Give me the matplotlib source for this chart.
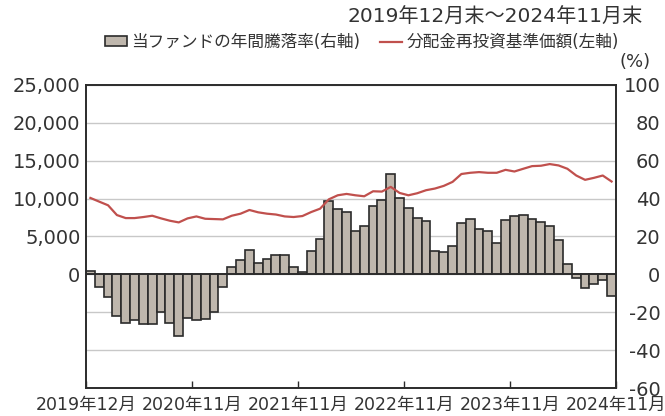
import numpy as np
import matplotlib.pyplot as plt
import matplotlib.ticker as ticker
from matplotlib.patches import Patch
from matplotlib.lines import Line2D

plt.rcParams['font.family'] = ['DejaVu Sans', 'Noto Sans CJK JP']
plt.rcParams['axes.unicode_minus'] = False

# 年間騰落率(%) 2019年12月～2024年11月
nenkan = [2.0, -6.9, -12.2, -22.1, -25.5, -24.1, -26.0, -26.0, -19.8, -25.8,
          -32.4, -23.0, -24.1, -23.4, -19.8, -6.9, 4.1, 7.6, 12.9, 6.2,
          8.1, 10.4, 10.3, 4.1, 1.1, 12.4, 18.6, 38.6, 34.3, 32.7,
          22.8, 25.8, 36.1, 39.5, 52.9, 40.4, 35.0, 29.6, 28.0, 12.4,
          11.9, 14.8, 27.3, 29.4, 23.7, 23.0, 16.8, 28.5, 30.8, 31.3,
          29.4, 27.8, 25.3, 18.2, 5.7, -2.1, -7.4, -5.0, -3.0, -11.2]
# 分配金再投資基準価額(円)
kijun = [10090, 9600, 9120, 7830, 7430, 7430, 7570, 7740, 7390, 7080,
         6860, 7390, 7650, 7340, 7300, 7260, 7740, 8010, 8500, 8190,
         8010, 7900, 7650, 7570, 7700, 8230, 8670, 9910, 10440, 10620,
         10440, 10310, 10970, 10930, 11550, 10750, 10440, 10710, 11110, 11330,
         11680, 12210, 13250, 13410, 13500, 13410, 13410, 13800, 13580, 13940,
         14290, 14340, 14560, 14380, 13940, 13050, 12480, 12740, 13050, 12260]
xlabels = ['2019年12月', '2020年11月', '2021年11月', '2022年11月', '2023年11月', '2024年11月']

bar_col = '#bfb7ad'
line_col = '#c0504d'
txt_col = '#333333'

fig = plt.figure(figsize=(6.65, 4.16), dpi=100)
ax = fig.add_axes([0.1293, 0.0673, 0.797, 0.7284])
ax2 = ax.twinx()
ax.set_zorder(ax2.get_zorder() + 1)
ax.patch.set_visible(False)

x = np.arange(len(nenkan)) + 0.5

# 棒(右軸)
ax2.bar(x, nenkan, width=1.0, color=bar_col, edgecolor='#2b2b2b', linewidth=1.2, zorder=2)
ax2.axhline(0, color='#2b2b2b', linewidth=1.2, zorder=3)
ax2.set_ylim(-60, 100)
ax2.yaxis.set_major_locator(ticker.MultipleLocator(20))
ax2.grid(axis='y', color='#c8c8c8', linewidth=1.0, zorder=0)
ax2.set_axisbelow(True)
ax2.tick_params(axis='y', length=0, pad=32, labelsize=14, labelcolor=txt_col)
for t in ax2.get_yticklabels():
    t.set_horizontalalignment('right')

# 線(左軸)
ax.plot(x, kijun, color=line_col, linewidth=1.6, zorder=4)
ax.set_ylim(-15000, 25000)
ax.set_yticks(np.arange(0, 25001, 5000))
ax.yaxis.set_major_formatter(ticker.FuncFormatter(lambda v, p: f'{int(v):,}'))
ax.tick_params(axis='y', length=0, pad=4, labelsize=14, labelcolor=txt_col)

ax.set_xlim(0, 60)
ax.set_xticks(np.arange(0, 61, 12))
ax.set_xticklabels(xlabels)
ax.tick_params(axis='x', direction='in', length=5, width=1, color='#2b2b2b',
               labelsize=12.5, labelcolor=txt_col, pad=6)

for a in (ax, ax2):
    for s in a.spines.values():
        s.set_color('#2b2b2b')
        s.set_linewidth(1.2)

fig.text(643 / 665, 1 - 17 / 416, '2019年12月末～2024年11月末', ha='right', va='center',
         fontsize=14.5, color=txt_col)
fig.text(651 / 665, 1 - 62 / 416, '(%)', ha='right', va='center', fontsize=13, color=txt_col)

handles = [Patch(facecolor=bar_col, edgecolor='#2b2b2b', linewidth=1.2),
           Line2D([0], [0], color=line_col, linewidth=1.6)]
fig.legend(handles, ['当ファンドの年間騰落率(右軸)', '分配金再投資基準価額(左軸)'],
           loc='center', bbox_to_anchor=(362 / 665, 1 - 42 / 416), ncol=2, frameon=False,
           fontsize=12, handlelength=1.3, handleheight=0.55, handletextpad=0.25,
           columnspacing=1.2, labelcolor=txt_col)

fig.savefig('out.png', dpi=100)
